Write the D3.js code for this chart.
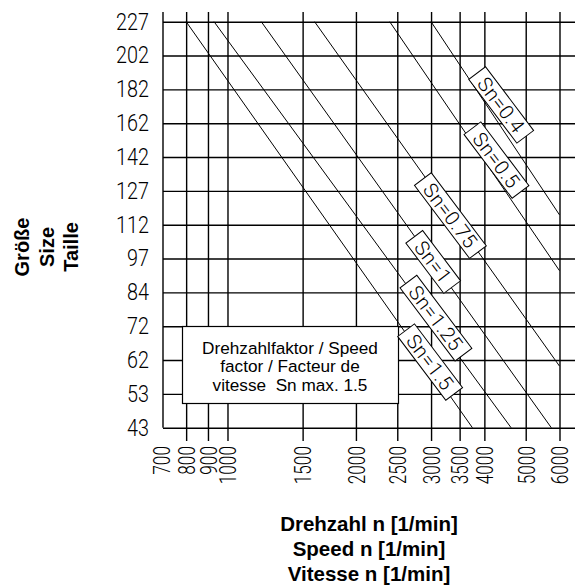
<!DOCTYPE html>
<html>
<head>
<meta charset="utf-8">
<script src="https://cdn.jsdelivr.net/npm/d3@7"></script>
<style>
  body { margin: 0; background: #fff; }
  .tech { font-family: Roboto, 'Liberation Sans', sans-serif; font-weight: 300; }
  .bold { font-family: 'Liberation Sans', Arial, sans-serif; font-weight: bold; }
</style>
</head>
<body>
<div id="chart"></div>
<script>
// Baugrößen (y, von oben nach unten) und Drehzahl-Ticks (x, log)
const sizes = [227, 202, 182, 162, 142, 127, 112, 97, 84, 72, 62, 53, 43];
const speedTicks = [800, 900, 1000, 1500, 2000, 2500, 3000, 3500, 4000, 5000, 6000];
const speedLabels = [700, 800, 900, 1000, 1500, 2000, 2500, 3000, 3500, 4000, 5000, 6000];

// Drehzahlfaktor-Linien: Start bei Größe 227, Ende (Drehzahl, Größenindex)
const snNames = ["Sn=0.4", "Sn=0.5", "Sn=0.75", "Sn=1", "Sn=1.25", "Sn=1.5"];
const snStartRpm = [3000, 2400, 1600, 1200, 930, 800];
const snEndRpm = [6000, 6000, 6000, 5740, 4620, 3750];
const snEndIdx = [5.71, 7.36, 10.18, 12, 12, 12];
// Mittelpunkt der Beschriftungskästchen (Drehzahl, Größenindex)
const snLabelRpm = [4380, 4270, 3330, 3035, 3080, 2985];
const snLabelIdx = [2.46, 4.09, 5.73, 7.1, 8.76, 10.06];

const W = 587, H = 588;
const plotLeft = 163, plotRight = 575, plotTop = 12, gridBottom = 441;
const labelAngle = 53;

const svg = d3.select("#chart").append("svg")
    .attr("width", W).attr("height", H);

const x = d3.scaleLog().domain([700, 6000]).range([161.4, 559.5]);
const y = d3.scaleLinear().domain([0, sizes.length - 1]).range([21.7, 427.7]);

// horizontale Gitterlinien + y-Beschriftung
const yAxis = svg.append("g")
    .attr("transform", `translate(${plotLeft}, 0)`)
    .call(d3.axisLeft(y)
        .tickValues(d3.range(sizes.length))
        .tickFormat(i => sizes[i])
        .tickSize(-(plotRight - plotLeft))
        .tickSizeOuter(0)
        .tickPadding(14));
yAxis.select(".domain").remove();
yAxis.selectAll("line").attr("stroke", "#000").attr("stroke-width", 1.4);
yAxis.selectAll("text")
    .attr("class", "tech")
    .style("font-size", "23px")
    .attr("fill", "#000")
    .attr("x", -14 / 0.86)
    .attr("transform", "scale(0.86,1)");

// linke Achse
svg.append("line")
    .attr("x1", plotLeft).attr("x2", plotLeft)
    .attr("y1", plotTop).attr("y2", y(sizes.length - 1))
    .attr("stroke", "#000").attr("stroke-width", 1.4);

// vertikale Gitterlinien
const xGrid = svg.append("g")
    .attr("transform", `translate(0, ${gridBottom})`)
    .call(d3.axisBottom(x)
        .tickValues(speedTicks)
        .tickFormat("")
        .tickSize(-(gridBottom - plotTop))
        .tickSizeOuter(0));
xGrid.select(".domain").remove();
xGrid.selectAll("line").attr("stroke", "#000").attr("stroke-width", 1.4);

// x-Beschriftung (gedreht)
const xAxis = svg.append("g")
    .attr("transform", `translate(0, ${gridBottom})`)
    .call(d3.axisBottom(x)
        .tickValues(speedLabels)
        .tickFormat(d3.format("d"))
        .tickSize(0));
xAxis.select(".domain").remove();
xAxis.selectAll("text")
    .attr("class", "tech")
    .style("font-size", "23px")
    .attr("fill", "#000")
    .attr("transform", "rotate(-90) scale(0.75,1)")
    .attr("x", -5 / 0.75)
    .attr("y", 0)
    .attr("dy", "0.36em")
    .style("text-anchor", "end");

// Sn-Linien
const snData = snNames.map((name, i) => ({
    name,
    p0: [x(snStartRpm[i]), y(0)],
    p1: [x(snEndRpm[i]), y(snEndIdx[i])],
    lx: x(snLabelRpm[i]),
    ly: y(snLabelIdx[i])
}));

svg.append("g").selectAll("line")
    .data(snData)
    .join("line")
    .attr("x1", d => d.p0[0]).attr("y1", d => d.p0[1])
    .attr("x2", d => d.p1[0]).attr("y2", d => d.p1[1])
    .attr("stroke", "#000").attr("stroke-width", 1);

// Legendenbox
const legend = svg.append("g");
legend.append("rect")
    .attr("x", 182.5).attr("y", 326.5)
    .attr("width", 216).attr("height", 77)
    .attr("fill", "#fff").attr("stroke", "#000").attr("stroke-width", 1.2);
const legendLines = ["Drehzahlfaktor / Speed", "factor / Facteur de", "vitesse  Sn max. 1.5"];
legend.selectAll("text")
    .data(legendLines)
    .join("text")
    .attr("x", 290)
    .attr("y", (d, i) => 354 + i * 18.4)
    .attr("text-anchor", "middle")
    .style("font-family", "'Liberation Sans', Arial, sans-serif")
    .style("font-size", "17.2px")
    .style("white-space", "pre")
    .attr("fill", "#000")
    .text(d => d);

// Sn-Beschriftungen (gedrehte Kästchen)
const labels = svg.append("g").selectAll("g")
    .data(snData)
    .join("g")
    .attr("transform", d => `translate(${d.lx}, ${d.ly}) rotate(${labelAngle})`);

labels.append("text")
    .attr("class", "tech")
    .style("font-size", "20px")
    .style("letter-spacing", "0.5px")
    .attr("text-anchor", "middle")
    .attr("dy", "0.36em")
    .attr("fill", "#000")
    .text(d => d.name);

labels.each(function() {
    const g = d3.select(this);
    const len = g.select("text").node().getComputedTextLength();
    g.insert("rect", "text")
        .attr("x", -len / 2 - 8).attr("y", -10.5)
        .attr("width", len + 16).attr("height", 21)
        .attr("fill", "#fff").attr("stroke", "#000").attr("stroke-width", 1);
});

// Achsentitel
const yTitle = ["Größe", "Size", "Taille"];
svg.append("g").selectAll("text")
    .data(yTitle)
    .join("text")
    .attr("class", "bold")
    .attr("transform", (d, i) => `translate(${22 + i * 24.5}, 247) rotate(-90)`)
    .attr("text-anchor", "middle")
    .attr("dy", "0.35em")
    .style("font-size", "20px")
    .attr("fill", "#000")
    .text(d => d);

const xTitle = ["Drehzahl n [1/min]", "Speed n [1/min]", "Vitesse n [1/min]"];
svg.append("g").selectAll("text")
    .data(xTitle)
    .join("text")
    .attr("class", "bold")
    .attr("x", (plotLeft + plotRight) / 2)
    .attr("y", (d, i) => 530.5 + i * 25)
    .attr("text-anchor", "middle")
    .style("font-size", "20.5px")
    .attr("fill", "#000")
    .text(d => d);
</script>
</body>
</html>
